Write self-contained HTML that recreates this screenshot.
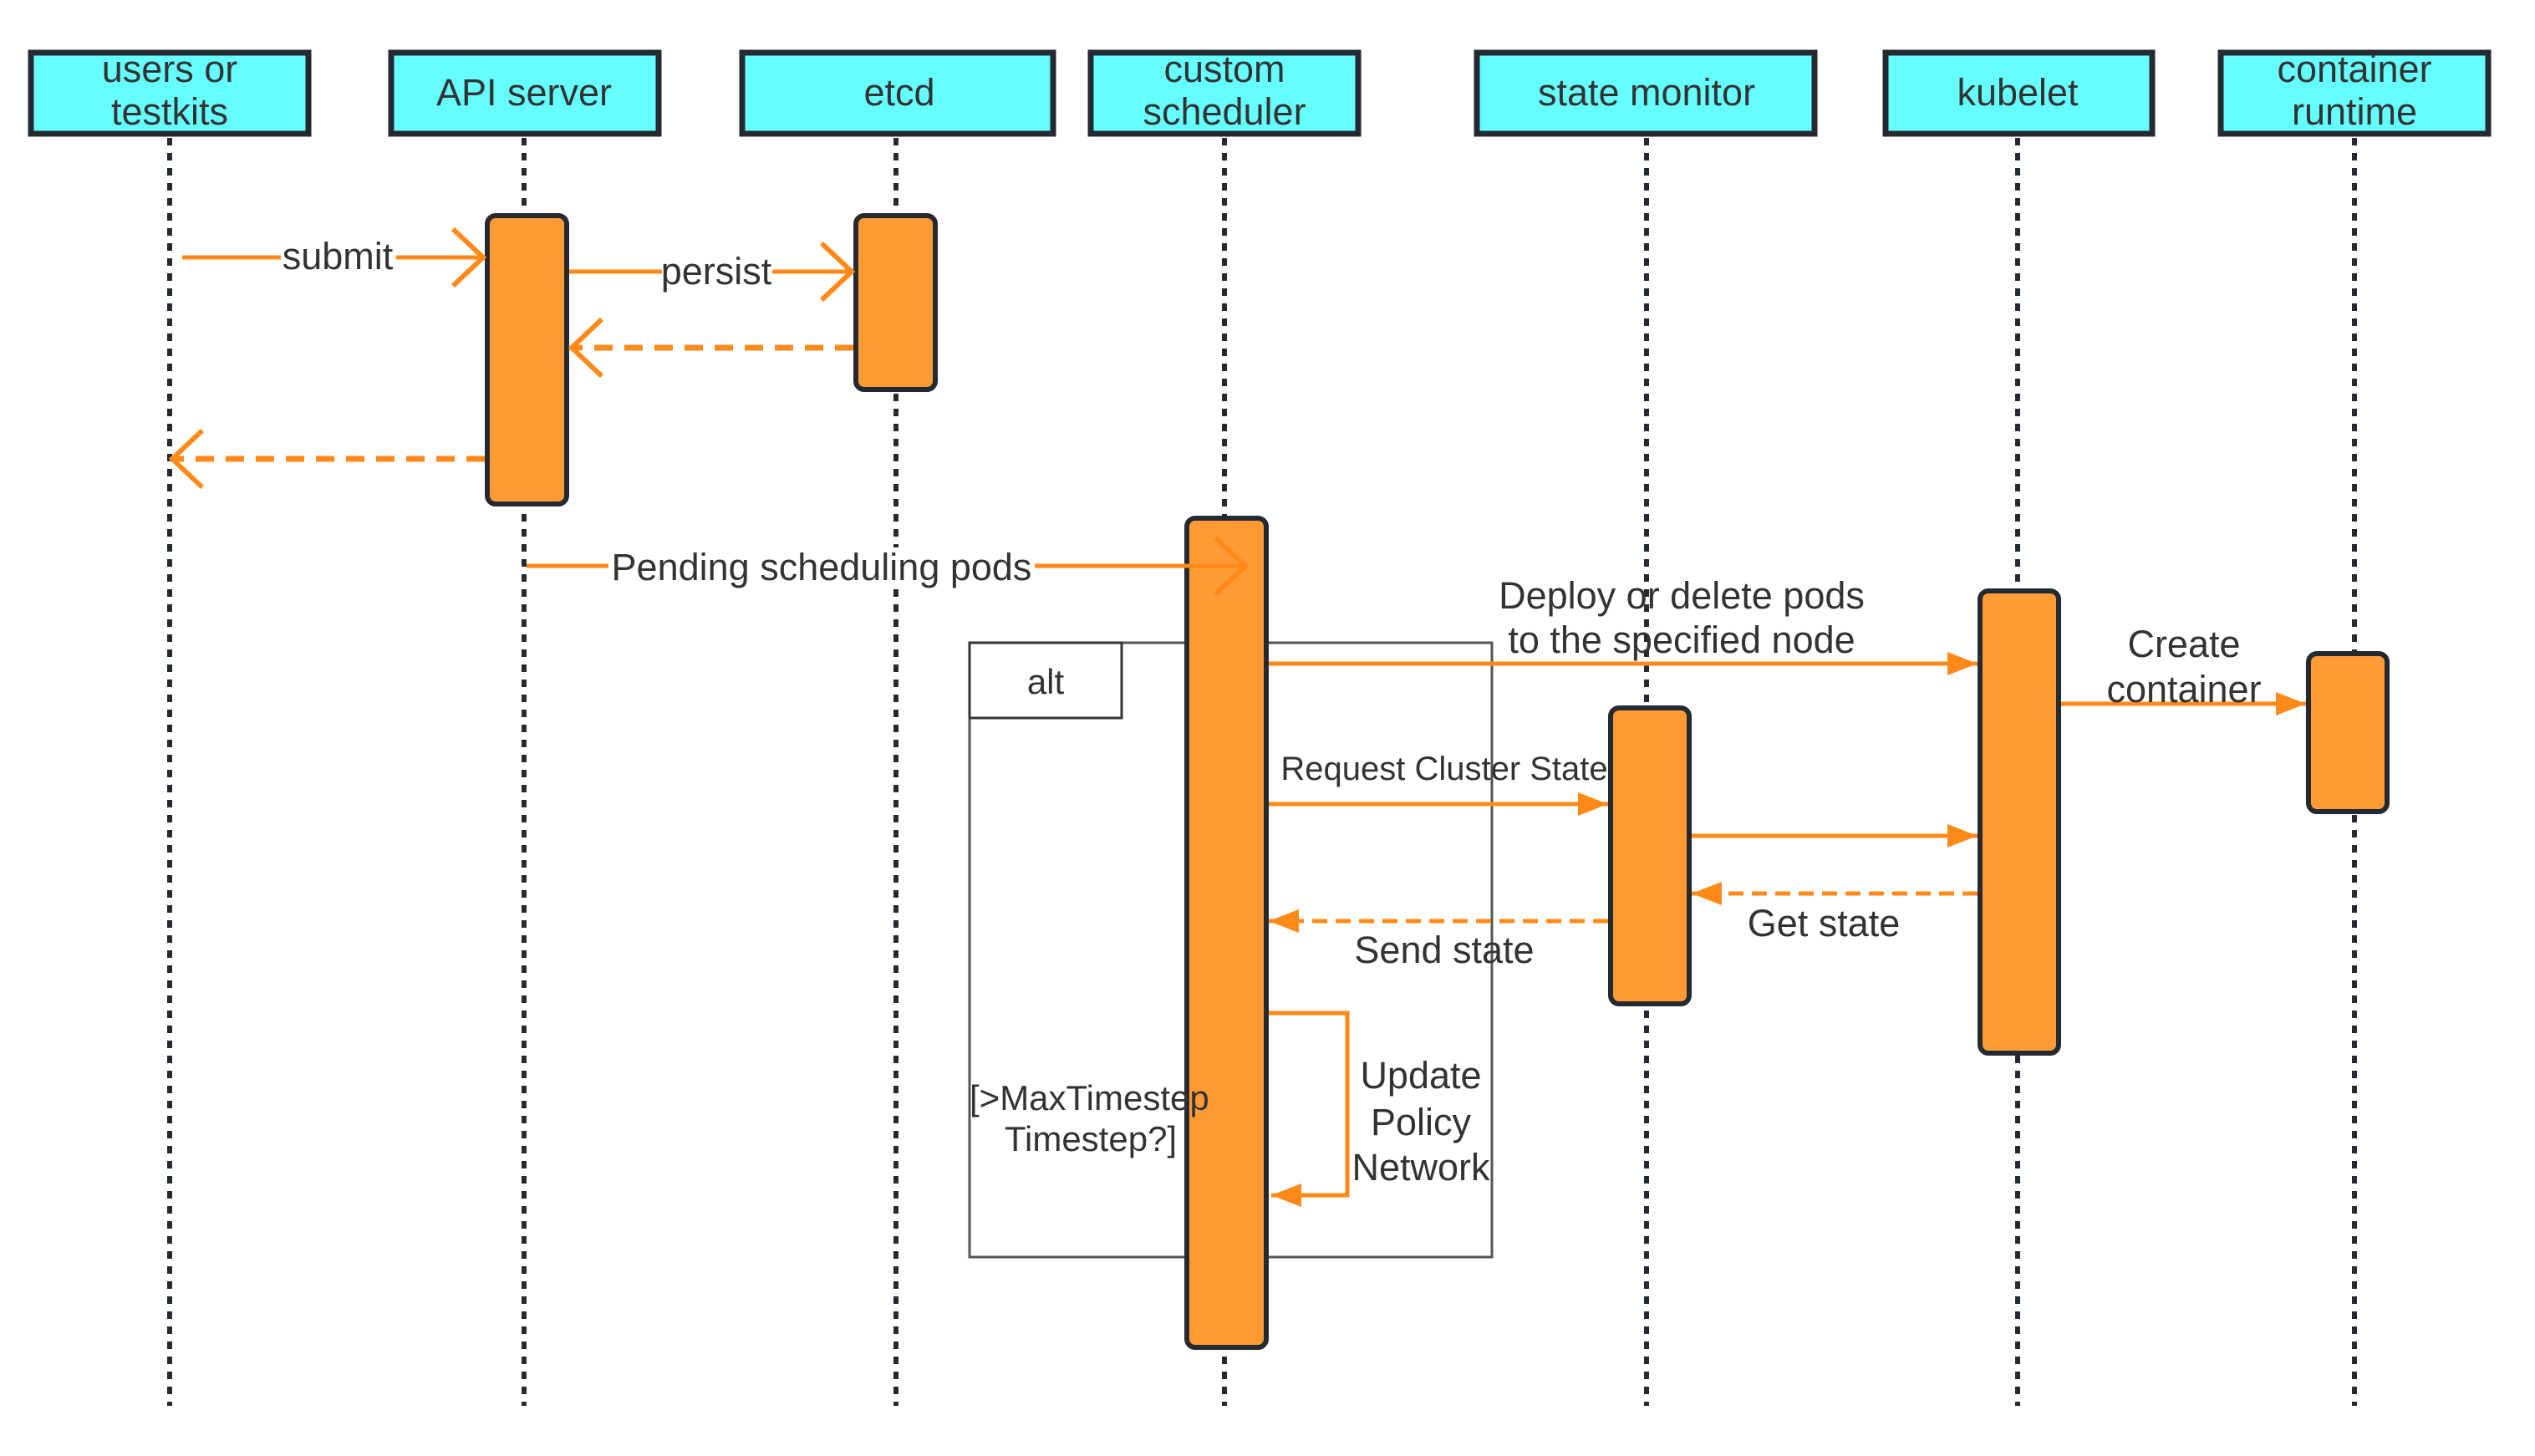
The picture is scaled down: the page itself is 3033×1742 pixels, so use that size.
<!DOCTYPE html>
<html><head><meta charset="utf-8"><style>
html,body{margin:0;padding:0;background:#fff;}
svg{display:block;}
text{font-family:"Liberation Sans",sans-serif;fill:#333;}
</style></head><body>
<svg width="3033" height="1742" viewBox="0 0 3033 1742" xmlns="http://www.w3.org/2000/svg">
<defs>
<marker id="open" markerUnits="userSpaceOnUse" markerWidth="60" markerHeight="80" refX="50" refY="40" orient="auto">
<path d="M14,6 L50,40 L14,74" fill="none" stroke="#ff8a1a" stroke-width="6"/>
</marker>
<marker id="fill" markerUnits="userSpaceOnUse" markerWidth="50" markerHeight="40" refX="40" refY="20" orient="auto">
<path d="M4,6 L40,20 L4,34 Z" fill="#ff8a1a"/>
</marker>
</defs>
<g stroke="#252a31" stroke-width="6" stroke-dasharray="9,9">
<line x1="203" y1="165" x2="203" y2="1682"/>
<line x1="627" y1="165" x2="627" y2="1682"/>
<line x1="1072" y1="165" x2="1072" y2="1682"/>
<line x1="1465" y1="165" x2="1465" y2="1682"/>
<line x1="1970" y1="165" x2="1970" y2="1682"/>
<line x1="2414" y1="165" x2="2414" y2="1682"/>
<line x1="2817" y1="165" x2="2817" y2="1682"/>
</g>
<g fill="#66ffff" stroke="#252a31" stroke-width="7">
<rect x="37" y="63" width="332" height="97"/>
<rect x="468" y="63" width="320" height="97"/>
<rect x="888" y="63" width="372" height="97"/>
<rect x="1305" y="63" width="320" height="97"/>
<rect x="1767" y="63" width="404" height="97"/>
<rect x="2256" y="63" width="319" height="97"/>
<rect x="2657" y="63" width="320" height="97"/>
</g>
<g font-size="45" text-anchor="middle">
<text x="203" y="98">users or</text><text x="203" y="149">testkits</text>
<text x="627" y="126">API server</text>
<text x="1076" y="126">etcd</text>
<text x="1465" y="98">custom</text><text x="1465" y="149">scheduler</text>
<text x="1970" y="126">state monitor</text>
<text x="2414" y="126">kubelet</text>
<text x="2817" y="98">container</text><text x="2817" y="149">runtime</text>
</g>
<rect x="1160" y="769" width="625" height="735" fill="none" stroke="#555" stroke-width="3"/>
<rect x="1160" y="769" width="182" height="90" fill="#fff" stroke="#333" stroke-width="3"/>
<text x="1251" y="830" font-size="42" text-anchor="middle">alt</text>
<g fill="#ff9a35" stroke="#252a31" stroke-width="6">
<rect x="583" y="258" width="95" height="345" rx="10"/>
<rect x="1024" y="258" width="95" height="208" rx="10"/>
<rect x="1420" y="620" width="95" height="992" rx="10"/>
<rect x="1927" y="847" width="94" height="354" rx="10"/>
<rect x="2369" y="707" width="94" height="553" rx="10"/>
<rect x="2762" y="782" width="94" height="189" rx="10"/>
</g>
<text x="1160" y="1328" font-size="42">[&gt;MaxTimestep</text>
<text x="1305" y="1377" font-size="42" text-anchor="middle">Timestep?]</text>
<g stroke="#ff8a1a" stroke-width="5" fill="none">
<line x1="218" y1="308" x2="578" y2="308" marker-end="url(#open)"/>
<line x1="681" y1="325" x2="1019" y2="325" marker-end="url(#open)"/>
<line x1="1021" y1="416" x2="684" y2="416" stroke-width="7" stroke-dasharray="22,14" marker-end="url(#open)"/>
<line x1="580" y1="549" x2="206" y2="549" stroke-width="7" stroke-dasharray="22,14" marker-end="url(#open)"/>
<line x1="630" y1="677" x2="1490" y2="677" marker-end="url(#open)"/>
<line x1="1518" y1="794" x2="2366" y2="794" marker-end="url(#fill)"/>
<line x1="2466" y1="842" x2="2759" y2="842" marker-end="url(#fill)"/>
<line x1="1518" y1="962" x2="1924" y2="962" marker-end="url(#fill)"/>
<line x1="2024" y1="1000" x2="2366" y2="1000" marker-end="url(#fill)"/>
<line x1="2366" y1="1069" x2="2024" y2="1069" stroke-dasharray="18,10" marker-end="url(#fill)"/>
<line x1="1924" y1="1102" x2="1518" y2="1102" stroke-dasharray="18,10" marker-end="url(#fill)"/>
<polyline points="1518,1212 1612,1212 1612,1430 1521,1430" marker-end="url(#fill)"/>
</g>
<g font-size="45" text-anchor="middle">
<rect x="336" y="285" width="138" height="44" fill="#fff"/>
<text x="404" y="322">submit</text>
<rect x="792" y="302" width="132" height="44" fill="#fff"/>
<text x="857" y="340">persist</text>
<rect x="728" y="655" width="510" height="44" fill="#fff"/>
<text x="983" y="694">Pending scheduling pods</text>
<text x="2012" y="728">Deploy or delete pods</text>
<text x="2012" y="781">to the specified node</text>
<text x="2613" y="786">Create</text>
<text x="2613" y="840">container</text>
<text x="1728" y="933" font-size="40">Request Cluster State</text>
<text x="2182" y="1120">Get state</text>
<text x="1728" y="1152">Send state</text>
<text x="1700" y="1302">Update</text>
<text x="1700" y="1358">Policy</text>
<text x="1700" y="1412">Network</text>
</g>
</svg>
</body></html>
